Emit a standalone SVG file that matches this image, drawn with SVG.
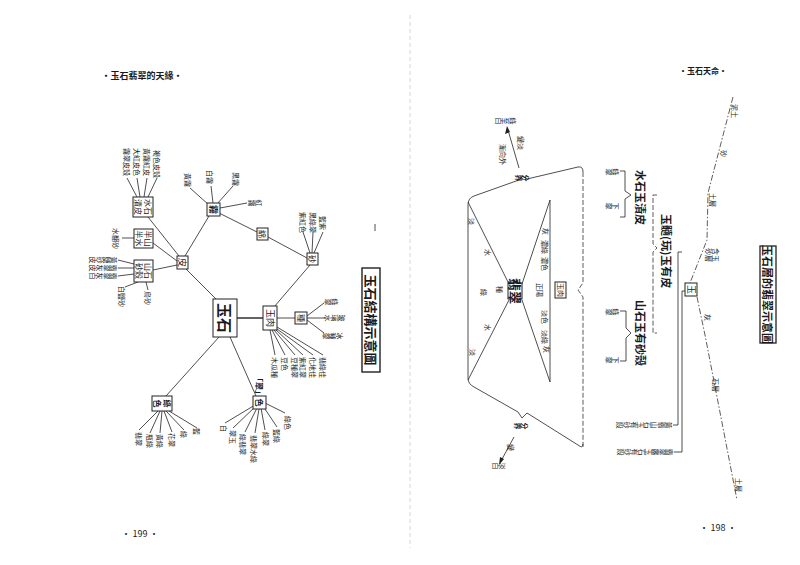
<svg xmlns="http://www.w3.org/2000/svg" width="800" height="565" viewBox="0 0 800 565">
<style>
.ln{stroke:#222;stroke-width:0.8;fill:none}
.tk{stroke:#222;stroke-width:1.4;fill:none}
.dd{stroke:#333;stroke-width:0.8;fill:none;stroke-dasharray:6 2 1.5 2}
.ds{stroke:#333;stroke-width:0.8;fill:none;stroke-dasharray:5 2}
.bx{fill:#fff;stroke:#222;stroke-width:1}
.t{font-family:"Noto Sans CJK TC","Noto Sans CJK SC",sans-serif;fill:#1a1a1a;dominant-baseline:central}
.v{writing-mode:vertical-rl}
.b{font-weight:bold}
.s6{font-size:6px}.s7{font-size:7px}.s8{font-size:8px}.s9{font-size:9px}.s10{font-size:10px}.s11{font-size:11px}.s13{font-size:13px}.s15{font-size:15px}
</style>
<rect width="800" height="565" fill="#fff"/>
<line x1="410" y1="15" x2="410" y2="548" stroke="#ccc" stroke-width="0.8" stroke-dasharray="4 3"/>

<!-- headers / footers -->
<text class="t s9 b" x="142" y="75" text-anchor="middle">•玉石翡翠的天緣•</text>
<text class="t s9" x="140" y="533" text-anchor="middle">• 199 •</text>
<text class="t s8 b" x="703" y="70" text-anchor="middle">•玉石天命•</text>
<text class="t s9" x="718" y="527" text-anchor="middle">• 198 •</text>
<line x1="375" y1="224" x2="375" y2="231" class="ln"/>

<!-- LEFT PAGE connectors -->
<g id="connectors-left">
<path class="ln" d="M217,300 L186,269"/>
<path class="tk" d="M237,318 L263,318"/>
<path class="ln" d="M219,337 L166,396"/>
<path class="ln" d="M230,337 L256,396"/>
<path class="ln" d="M179,256 L148,217"/>
<path class="ln" d="M177,261 L153,243"/>
<path class="ln" d="M177,265 L153,270"/>
<path class="ln" d="M185,256 L209,216"/>
<path class="ln" d="M219,213 L257,232"/>
<path class="ln" d="M268,237 L307,258"/>
<path class="ln" d="M310,265 L274,307"/>
<path class="ln" d="M277,318 L295,318"/>
<!-- 水石 spokes -->
<path class="ln" d="M137,197 L127,178 M140,197 L137,178 M144,197 L147,178 M148,197 L157,178"/>
<path class="ln" d="M134,238 L122,238"/>
<!-- 山石 spokes -->
<path class="ln" d="M134,264 L118,260 M134,268 L118,268 M134,274 L118,276 M138,282 L125,287 M146,282 L148,290"/>
<!-- 霧 spokes -->
<path class="ln" d="M209,205 L190,188 M213,203 L211,186 M217,204 L233,186 M220,208 L247,203"/>
<!-- 砂 spokes -->
<path class="ln" d="M310,253 L303,232 M312,253 L313,232 M314,253 L323,232"/>
<!-- 種 spokes -->
<path class="ln" d="M307,316 L324,303 M307,318 L326,318 M307,320 L324,333"/>
<!-- 玉肉 fan -->
<path class="ln" d="M270,330 L275,355 M272,330 L285,355 M274,330 L295,355 M276,330 L303,355 M277,329 L313,355 M277,327 L323,355"/>
<!-- 綠色 fan -->
<path class="ln" d="M158,411 L139,430 M160,411 L150,433 M162,411 L160,433 M164,411 L172,432 M166,411 L184,430 M169,411 L197,428"/>
<!-- lower-right fan -->
<path class="ln" d="M255,405 L225,423 M256,406 L233,428 M257,408 L245,432 M259,409 L255,433 M261,408 L265,430 M263,406 L277,427 M265,403 L285,413"/>
</g>

<!-- LEFT PAGE nodes -->
<g id="n-yushi"><rect class="bx" x="213" y="299" width="24" height="38" stroke-width="1.3"/><text class="t s15 b" text-anchor="middle" transform="translate(225,318) rotate(90)">玉石</text></g>
<g id="n-pi"><rect class="bx" x="177" y="256" width="11" height="13"/><text class="t s9" text-anchor="middle" transform="translate(182.5,262.5) rotate(90)">皮</text></g>
<g id="n-yurou"><rect class="bx" x="263" y="306" width="14" height="24"/><text class="t s9" text-anchor="middle" transform="translate(270,318) rotate(90)">玉肉</text></g>
<g id="n-zhong"><rect class="bx" x="295" y="312" width="12" height="12"/><text class="t s8" text-anchor="middle" transform="translate(301,318) rotate(90)">種</text></g>
<g id="n-sha"><rect class="bx" x="307" y="253" width="11" height="12"/><text class="t s8" text-anchor="middle" transform="translate(312.5,259) rotate(90)">砂</text></g>
<g id="n-mian"><rect class="bx" x="257" y="228" width="11" height="12"/><text class="t s8" text-anchor="middle" transform="translate(262.5,234) rotate(90)">綿</text></g>
<g id="n-wu"><rect class="bx" x="207" y="203" width="13" height="13"/><text class="t s9 b" text-anchor="middle" transform="translate(213.5,209.5) rotate(90)">霧</text></g>
<g id="n-shuishi"><rect class="bx" x="133" y="197" width="20" height="20"/><text class="t s8" text-anchor="middle" transform="translate(148,207) rotate(90)">水石</text><text class="t s8" text-anchor="middle" transform="translate(138,207) rotate(90)">漬皮</text></g>
<g id="n-banshan"><rect class="bx" x="134" y="229" width="19" height="19"/><text class="t s8" text-anchor="middle" transform="translate(148,238.5) rotate(90)">半山</text><text class="t s8" text-anchor="middle" transform="translate(139,238.5) rotate(90)">半水</text></g>
<g id="n-shanshi"><rect class="bx" x="134" y="260" width="19" height="22"/><text class="t s8" text-anchor="middle" transform="translate(148,271) rotate(90)">山石</text><text class="t s8" text-anchor="middle" transform="translate(139,271) rotate(90)">砂殼</text></g>
<g id="n-luse"><rect class="bx" x="152" y="396" width="20" height="15"/><text class="t s8 b" text-anchor="middle" transform="translate(167,403.5) rotate(90)">綠</text><text class="t s8 b" text-anchor="middle" transform="translate(157,403.5) rotate(90)">色</text></g>
<g id="n-cui"><rect class="bx" x="253" y="396" width="13" height="13"/><text class="t s8 b" text-anchor="middle" transform="translate(259.5,402.5) rotate(90)">色</text><text class="t s8 b" text-anchor="middle" transform="translate(259,386) rotate(90)">「翠」</text></g>

<!-- LEFT labels -->
<g id="labels-left">
<text class="t s7" transform="translate(127,148) rotate(90)">霧翠皮殼</text>
<text class="t s7" transform="translate(137,148) rotate(90)">大紅皮色</text>
<text class="t s7" transform="translate(147,148) rotate(90)">黃霧紅皮</text>
<text class="t s7" transform="translate(157,150) rotate(90)">褐色皮殼</text>
<text class="t s7" transform="translate(116,228) rotate(90)">水翻砂</text>
<text class="t s7 v" transform="translate(117,260) rotate(90)">黃鹽砂皮</text>
<text class="t s7 v" transform="translate(117,268) rotate(90)">翡翠灰皮</text>
<text class="t s7 v" transform="translate(117,276) rotate(90)">翡翠灰白</text>
<text class="t s7" transform="translate(122,286) rotate(90)">白鹽砂</text>
<text class="t s7" transform="translate(148,291) rotate(90)">烏砂</text>
<text class="t s7" transform="translate(188,173) rotate(90)">黃霧</text>
<text class="t s7" transform="translate(210,170) rotate(90)">白霧</text>
<text class="t s7" transform="translate(236,172) rotate(90)">黑霧</text>
<text class="t s7 v" transform="translate(262,203) rotate(90)">紅霧</text>
<text class="t s7" transform="translate(303,212) rotate(90)">紫紅色</text>
<text class="t s7" transform="translate(313,212) rotate(90)">黑綠翠</text>
<text class="t s7" transform="translate(323,216) rotate(90)">藍紫</text>
<text class="t s7 v" transform="translate(338,302) rotate(90)">綠翠</text>
<text class="t s7 v" transform="translate(345,318) rotate(90)">玻璃水</text>
<text class="t s7 v" transform="translate(343,336) rotate(90)">冰種翠</text>
<text class="t s7" transform="translate(275,357) rotate(90)">木瓜種</text>
<text class="t s7" transform="translate(285,357) rotate(90)">豆色</text>
<text class="t s7" transform="translate(295,357) rotate(90)">豆種翠</text>
<text class="t s7" transform="translate(303,357) rotate(90)">紫紅翠</text>
<text class="t s7" transform="translate(313,357) rotate(90)">化地佳</text>
<text class="t s7" transform="translate(323,357) rotate(90)">翡綠佳</text>
<text class="t s7" transform="translate(139,432) rotate(90)">翡翠</text>
<text class="t s7" transform="translate(150,434) rotate(90)">瓶綠</text>
<text class="t s7" transform="translate(160,434) rotate(90)">黃綠</text>
<text class="t s7" transform="translate(172,433) rotate(90)">花翠</text>
<text class="t s7" transform="translate(184,431) rotate(90)">綠</text>
<text class="t s7" transform="translate(197,428) rotate(90)">藍</text>
<text class="t s7" transform="translate(224,425) rotate(90)">白</text>
<text class="t s7" transform="translate(233,430) rotate(90)">翠玉</text>
<text class="t s7" transform="translate(243,434) rotate(90)">綠翡翠</text>
<text class="t s7" transform="translate(254,435) rotate(90)">翡翠水綠</text>
<text class="t s7" transform="translate(266,432) rotate(90)">綠翠</text>
<text class="t s7" transform="translate(277,429) rotate(90)">藍綠</text>
<text class="t s7" transform="translate(288,416) rotate(90)">綠色</text>
</g>
<g id="title-left"><rect x="362" y="268" width="18" height="104" fill="none" stroke="#222" stroke-width="1.4"/><text class="t s13 b" text-anchor="middle" transform="translate(371,320) rotate(90)">玉石結構示意圖</text></g>

<!-- RIGHT PAGE connectors -->
<g id="connectors-right">
<path class="dd" d="M733,97 L708,193 L707,240 L690,283"/>
<path class="dd" d="M697,297 L705,335 L737,500"/>
<path class="ln" d="M620,171 H625 V191 L631,195 L625,199 V217 H620"/>
<path class="ln" d="M620,311 H626 V328 L631,333 L626,338 V361 H620"/>
<path class="ds" d="M657,195 H653 V244 L657,248 L653,252 V333 H657"/>
<path class="ln" d="M682,252 H678 V425 H673"/>
<path class="ln" d="M685,291 H682 V452 H674"/>
<path class="ln" d="M468,205 Q468,198 474,196 L519,180 L523,176 L527,179 L578,167 Q583,166 583,172"/>
<path class="ds" d="M583,172 V283 L578,290 L583,297 V447"/>
<path class="ln" d="M468,378 Q468,384 474,387 L518,412 L522,418 L527,413 L578,445 Q583,449 583,444"/>
<path class="ln" d="M468,205 V378"/>
<path class="ln" d="M550,200 V382"/>
<path class="ln" d="M468,202 L509,284 M468,380 L509,300 M550,200 L522,284 M550,382 L522,300"/>
<path class="ln" d="M519,168 L508,130"/>
<path d="M507,126 L505,134 L510,132 Z" fill="#222"/>
<path class="ln" d="M514,437 L501,461"/>
<path d="M499,465 L500,457 L504,459 Z" fill="#222"/>
</g>

<!-- RIGHT nodes -->
<g id="n-yu"><rect class="bx" x="685" y="283" width="12" height="13"/><text class="t s9" text-anchor="middle" transform="translate(691,289.5) rotate(90)">玉</text></g>
<g id="n-feicui"><rect class="bx" x="508" y="283" width="14" height="16"/><text class="t s13 b" text-anchor="middle" transform="translate(515,291) rotate(90)">翡翠</text></g>
<g id="n-yurou2"><rect class="bx" x="555" y="282" width="11" height="16"/><text class="t s7" text-anchor="middle" transform="translate(560.5,290) rotate(90)">玉肉</text></g>
<g id="title-right"><rect x="760" y="246" width="16" height="97" fill="none" stroke="#222" stroke-width="1.3"/><text class="t s11 b" text-anchor="middle" transform="translate(768,294.5) rotate(90)">玉石層的翡翠示意圖</text></g>

<!-- RIGHT labels -->
<g id="labels-right">
<text class="t s7" transform="translate(735,104) rotate(90)">泥土</text>
<text class="t s7" transform="translate(724,150) rotate(90)">砂</text>
<text class="t s7" transform="translate(713,193) rotate(90)">土層</text>
<text class="t s7" transform="translate(716,248) rotate(90)">含玉</text>
<text class="t s7" transform="translate(709,248) rotate(90)">砂層</text>
<text class="t s7" transform="translate(708,314) rotate(90)">灰</text>
<text class="t s7" transform="translate(716,378) rotate(90)">石層</text>
<text class="t s7" transform="translate(739,478) rotate(90)">土層</text>
<text class="t s11 b" transform="translate(641,170) rotate(90)">水石玉漬皮</text>
<text class="t s11 b" transform="translate(667,214) rotate(90)">玉髓(玩)玉有皮</text>
<text class="t s11 b" transform="translate(641,300) rotate(90)">山石玉有砂殼</text>
<text class="t s7 v" transform="translate(619,172) rotate(90)">綠翠</text>
<text class="t s7 v" transform="translate(619,206) rotate(90)">下翠</text>
<text class="t s7 v" transform="translate(619,312) rotate(90)">綠翠</text>
<text class="t s7 v" transform="translate(619,360) rotate(90)">下翠</text>
<text class="t s7 v" transform="translate(672,425) rotate(90)">黃翡山石玉有砂殼</text>
<text class="t s7 v" transform="translate(673,452) rotate(90)">翡翠露玉石有砂殼</text>
<text class="t s7" transform="translate(472,218) rotate(90)">淡</text>
<text class="t s7" transform="translate(488,249) rotate(90)">水</text>
<text class="t s7" transform="translate(484,289) rotate(90)">綠</text>
<text class="t s7" transform="translate(500,286) rotate(90)">種</text>
<text class="t s7" transform="translate(488,324) rotate(90)">水</text>
<text class="t s7" transform="translate(473,349) rotate(90)">淡</text>
<text class="t s7" transform="translate(546,228) rotate(90)">灰</text>
<text class="t s7" transform="translate(545,240) rotate(90)">濃綠</text>
<text class="t s7" transform="translate(545,257) rotate(90)">濃色</text>
<text class="t s7" transform="translate(540,283) rotate(90)">正陽</text>
<text class="t s7" transform="translate(545,310) rotate(90)">淡色</text>
<text class="t s7" transform="translate(545,330) rotate(90)">淡綠</text>
<text class="t s7" transform="translate(547,346) rotate(90)">灰</text>
<text class="t s7 v b" transform="translate(529,178) rotate(90)">分界</text>
<text class="t s7" transform="translate(521,136) rotate(90)">變淡</text>
<text class="t s7" transform="translate(503,144) rotate(90)">漸向外</text>
<text class="t s7 v" transform="translate(516,121) rotate(90)">綠至白</text>
<text class="t s7 v b" transform="translate(528,426) rotate(90)">分界</text>
<text class="t s7" transform="translate(511,444) rotate(90)">變</text>
<text class="t s7 v" transform="translate(506,466) rotate(90)">淡白</text>
</g>
</svg>
